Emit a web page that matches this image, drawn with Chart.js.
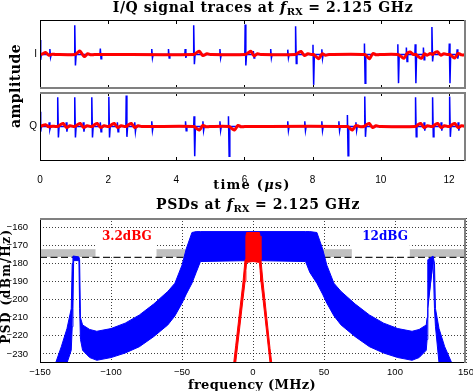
<!DOCTYPE html>
<html>
<head>
<meta charset="utf-8">
<script src="https://cdn.jsdelivr.net/npm/chart.js"></script>
<style>
  body { margin: 0; background: #fff; width: 473px; height: 391px; position: relative; overflow: hidden; }
  canvas { position: absolute; left: 0; }
  .lbl { position: absolute; font-family: 'DejaVu Serif', serif; font-weight: bold; color: #000;
         white-space: nowrap; line-height: 1; transform: translate(-50%, -50%); }
  .rot { transform: translate(-50%, -50%) rotate(-90deg); }
  .lbl sub { font-size: 10px; vertical-align: -3px; letter-spacing: 0; }
</style>
</head>
<body>
<canvas id="iChart" width="473" height="95" style="top:0px"></canvas>
<canvas id="qChart" width="473" height="104" style="top:88px"></canvas>
<canvas id="psdChart" width="473" height="179" style="top:212px"></canvas>

<div class="lbl" style="left:263px;top:8px;font-size:14px;letter-spacing:0.6px">I/Q signal traces at <i>f</i><sub>RX</sub> = 2.125 GHz</div>
<div class="lbl rot" style="left:15px;top:86px;font-size:14px;letter-spacing:0.5px">amplitude</div>
<div class="lbl" style="left:252px;top:184px;font-size:13px;letter-spacing:1.2px">time (<i>μ</i>s)</div>
<div class="lbl" style="left:258px;top:205px;font-size:14px;letter-spacing:0.6px">PSDs at <i>f</i><sub>RX</sub> = 2.125 GHz</div>
<div class="lbl rot" style="left:5.5px;top:286px;font-size:12px;letter-spacing:1.5px">PSD (dBm/Hz)</div>
<div class="lbl" style="left:252px;top:384px;font-size:13px;letter-spacing:0.3px">frequency (MHz)</div>

<script>
// ---- time traces (µs) ----
const timeTicks = [0, 2, 4, 6, 8, 10, 12];

// I branch: spike times, positive peak, negative peak
const iSpikeT  = [0.0, 0.29, 1.02, 1.77, 3.28, 3.77, 4.26, 4.51, 5.28, 6.02, 6.26, 6.77, 7.27, 7.50, 8.01, 8.27, 9.52, 10.50, 10.75, 11.01, 11.25, 11.50, 12.01, 12.24];
const iSpikeHi = [0.42, 0.16, 0.85, 0.17, 0.16, 0.16, 0.16, 0.85, 0.16, 0.87, 0.10, 0.16, 0.14, 0.82, 0.28, 0.15, 0.32, 0.30, 0.20, 0.30, 0.20, 0.80, 0.32, 0.15];
const iSpikeLo = [-0.16, -0.08, -0.32, -0.12, -0.10, -0.10, -0.10, -0.28, -0.10, -0.32, -0.10, -0.10, -0.10, -0.26, -0.88, -0.12, -0.83, -0.83, -0.20, -0.83, -0.15, -0.20, -0.83, -0.12];

// Q branch
const qSpikeT  = [0.0, 0.27, 0.52, 0.77, 1.02, 1.27, 1.52, 1.77, 2.02, 2.27, 2.53, 2.78, 3.28, 4.27, 4.52, 4.78, 5.28, 5.53, 7.27, 7.77, 8.27, 8.77, 9.02, 9.27, 9.53, 11.02, 11.27, 11.52, 11.77, 12.02, 12.27];
const qSpikeHi = [0.43, 0.12, 0.85, 0.12, 0.85, 0.12, 0.85, 0.12, 0.86, 0.12, 0.90, 0.12, 0.15, 0.15, 0.30, 0.15, 0.15, 0.30, 0.15, 0.15, 0.15, 0.15, 0.33, 0.12, 0.87, 0.85, 0.12, 0.85, 0.12, 0.87, 0.12];
const qSpikeLo = [-0.15, -0.08, -0.32, -0.15, -0.32, -0.15, -0.32, -0.15, -0.32, -0.15, -0.30, -0.15, -0.12, -0.12, -0.86, -0.12, -0.12, -0.86, -0.12, -0.12, -0.12, -0.12, -0.85, -0.12, -0.30, -0.30, -0.12, -0.30, -0.12, -0.30, -0.12];

// filtered (red) traces
const iRedT = [0, 0.08, 0.16, 0.26, 0.36, 0.45, 1.03, 1.10, 1.17, 1.30, 1.40, 1.50, 1.60, 4.52, 4.60, 4.68, 4.78, 4.90, 5.00,
  6.03, 6.11, 6.19, 6.28, 6.38, 6.48, 7.50, 7.58, 7.66, 7.76, 7.86, 7.96, 8.02, 8.10, 8.18, 8.28, 8.38, 8.48,
  9.53, 9.60, 9.67, 9.77, 9.87, 9.97, 10.50, 10.60, 10.68, 10.78, 10.86, 10.96, 11.03, 11.10, 11.19, 11.28, 11.36, 11.45,
  11.52, 11.58, 11.66, 11.76, 11.85, 11.95, 12.02, 12.10, 12.17, 12.27, 12.37, 12.5];
const iRedV = [0, 0.02, 0.06, -0.02, 0.01, 0, 0, 0.05, 0.10, -0.06, 0.02, -0.01, 0, 0, 0.06, 0.09, -0.03, 0.02, 0,
  0, 0.05, 0.09, -0.04, 0.02, 0, 0, 0.05, 0.09, -0.03, 0.02, 0, 0, -0.06, -0.12, 0.02, -0.02, 0,
  0, -0.06, -0.12, 0.03, -0.01, 0, 0, -0.06, -0.11, 0.04, 0.07, 0, 0, -0.06, -0.11, 0.02, -0.02, 0.03,
  0, 0.05, 0.08, -0.02, 0.02, 0, 0, -0.06, -0.10, 0.03, -0.01, 0];

const qRedT = [0, 0.08, 0.16, 0.26, 0.36, 0.45, 0.52, 0.60, 0.68, 0.78, 0.88, 0.98, 1.02, 1.10, 1.18, 1.28, 1.38, 1.48,
  1.53, 1.60, 1.68, 1.78, 1.88, 1.98, 2.03, 2.10, 2.18, 2.28, 2.38, 2.48, 2.53, 2.60, 2.68, 2.78, 2.88, 2.98,
  4.52, 4.60, 4.68, 4.78, 4.88, 4.98, 5.55, 5.63, 5.71, 5.81, 5.91, 6.01,
  9.03, 9.10, 9.17, 9.27, 9.37, 9.50, 9.58, 9.66, 9.76, 9.86, 9.96,
  11.02, 11.09, 11.17, 11.27, 11.37, 11.47, 11.52, 11.59, 11.67, 11.77, 11.87, 11.97, 12.02, 12.09, 12.17, 12.27, 12.37, 12.5];
const qRedV = [0, 0.03, 0.05, -0.01, 0.01, 0, 0, 0.05, 0.09, -0.03, 0.02, 0, 0, 0.05, 0.09, -0.03, 0.02, 0,
  0, 0.05, 0.09, -0.03, 0.02, 0, 0, 0.05, 0.09, -0.03, 0.02, 0, 0, 0.05, 0.09, -0.03, 0.02, 0,
  0, -0.06, -0.10, 0.03, -0.01, 0, 0, -0.06, -0.10, 0.03, -0.01, 0,
  0, -0.06, -0.10, 0.03, 0, 0, 0.05, 0.09, -0.03, 0.02, 0,
  0, 0.05, 0.09, -0.03, 0.02, 0, 0, 0.05, 0.09, -0.03, 0.02, 0, 0, 0.05, 0.09, -0.03, 0.02, 0];

// ---- PSDs (MHz, dBm/Hz) ----
const freqTicks = [-150, -100, -50, 0, 50, 100, 150];
const psdTicks = [-230, -220, -210, -200, -190, -180, -170, -160];

// 12 dBG signal: upper and lower envelope of the blue band
const blueF = [-139, -135, -131, -128, -127.3, -126.8, -126.3, -122.6, -122.1, -121.5, -120, -115, -110, -100, -90, -80, -70, -60, -55, -50, -47, -43, -40, -37,
  0, 37, 40, 45, 49, 52, 57, 62, 72, 82, 92, 102, 112, 117, 122, 122.6, 123.1, 126.8, 127.3, 127.8, 128.5, 131, 135, 140];
const blueUpper = [-235, -226, -216, -205, -180, -176, -176, -176.5, -178, -210, -214, -216.5, -217.5, -216, -213, -208.5, -202.5, -195.5, -191, -181, -172, -163, -162.5, -162.5,
  -162.5, -162.5, -162.5, -163, -172, -181, -191, -195.5, -202.5, -208.5, -213, -216, -217.5, -216.5, -214, -210, -178, -176, -176, -180, -205, -216, -226, -235];
const blueLower = [-235, -235, -235, -228, -215, -205, -178.5, -178.5, -205, -222, -228, -232, -233.5, -232, -229.5, -226, -220.5, -214, -209, -202, -197, -191, -185, -179,
  -178.5, -179, -185, -191, -197, -202, -209, -214, -220.5, -226, -229.5, -232, -233.5, -232, -228, -222, -205, -178.5, -178.5, -205, -215, -235, -235, -235];

// 3.2 dBG signal
const redF     = [-13.6, -12.2, -7, -5.6, -5, -4.5, 0, 4.5, 5, 5.6, 7, 12, 13.2];
const redUpper = [-235, -225.5, -190, -178, -165, -163, -163, -163, -165, -178, -190, -227, -235];
const redLower = [-235, -235, -199.5, -190, -184, -179.5, -179, -179.5, -184, -190, -199.5, -235, -235];

const bandTop = -172.2, bandBottom = -176.5, dashLevel = -176.7;
const gainText = ['3.2dBG', '12dBG'];
const gainFreq = [-88.8, 93];
const gainLevel = -165.3;
const gainColor = ['#ff0000', '#0000ff'];

Chart.defaults.font.family = "'Liberation Sans Narrow', 'Liberation Sans', Arial, sans-serif";
Chart.defaults.color = '#000';

function zip(xs, ys) {
  return xs.map((x, k) => ({ x: x, y: ys[k] }));
}

function spikePoints(ts, hi, lo) {
  const pts = [];
  ts.forEach((t, k) => {
    pts.push({ x: t - 0.01, y: 0 }, { x: t, y: hi[k] }, { x: t + 0.02, y: lo[k] }, { x: t + 0.04, y: 0 });
  });
  return pts;
}

// keep the plot box where I put it: no automatic room for the edge labels
function fixWidth(w) {
  return s => { s.width = w; s.paddingTop = 0; s.paddingBottom = 0; };
}
function fixHeight(h) {
  return s => { s.height = h; s.paddingLeft = 0; s.paddingRight = 0; };
}

const minus = v => String(v).replace('-', '\u2212');

// box around each panel, plus the small inward ticks of the time panels
const panelFrame = {
  id: 'panelFrame',
  afterDraw(chart, args, opts) {
    const { ctx, chartArea: a, scales } = chart;
    ctx.save();
    if (opts.ticks) {
      ctx.strokeStyle = '#000';
      ctx.lineWidth = 1;
      ctx.beginPath();
      opts.ticks.forEach(v => {
        const x = Math.round(scales.x.getPixelForValue(v)) + 0.5;
        ctx.moveTo(x, a.top); ctx.lineTo(x, a.top + 4);
        ctx.moveTo(x, a.bottom); ctx.lineTo(x, a.bottom - 4);
      });
      ctx.stroke();
    }
    ctx.strokeStyle = '#000';
    ctx.lineWidth = 1;
    ctx.strokeRect(a.left + 0.5, a.top + 0.5, a.width - 1, a.height - 1);
    ctx.strokeStyle = '#808080';
    ctx.lineWidth = 2;
    ctx.beginPath();
    (opts.gray || []).forEach(side => {
      if (side === 'top') { ctx.moveTo(a.left, a.top + 1); ctx.lineTo(a.right, a.top + 1); }
      if (side === 'bottom') { ctx.moveTo(a.left, a.bottom - 1); ctx.lineTo(a.right, a.bottom - 1); }
      if (side === 'right') { ctx.moveTo(a.right - 1, a.top); ctx.lineTo(a.right - 1, a.bottom); }
    });
    ctx.stroke();
    ctx.restore();
  }
};

// grey gain band, white label boxes, dashed reference and the dBG labels
const psdExtras = {
  id: 'psdExtras',
  beforeDatasetsDraw(chart) {
    const { ctx, chartArea: a, scales: { x, y } } = chart;
    ctx.save();
    ctx.beginPath();
    ctx.rect(a.left, a.top, a.width, a.height);
    ctx.clip();
    const yT = y.getPixelForValue(bandTop);
    const yB = y.getPixelForValue(bandBottom);
    ctx.fillStyle = '#c0c0c0';
    ctx.fillRect(a.left, yT, a.width, yB - yT);
    ctx.fillStyle = '#fff';
    const bTop = y.getPixelForValue(-161.1), bBot = y.getPixelForValue(-176.6);
    ctx.fillRect(x.getPixelForValue(-110.9), bTop, 61, bBot - bTop);
    ctx.fillRect(x.getPixelForValue(69.6), bTop, 58, bBot - bTop);
    const yd = y.getPixelForValue(dashLevel);
    ctx.setLineDash([7, 3.5]);
    ctx.strokeStyle = '#222';
    ctx.lineWidth = 1.3;
    ctx.beginPath();
    ctx.moveTo(a.left, yd); ctx.lineTo(a.right, yd);
    ctx.stroke();
    ctx.restore();
  },
  afterDatasetsDraw(chart) {
    const { ctx, scales: { x, y } } = chart;
    ctx.save();
    ctx.font = "bold 12px 'DejaVu Serif'";
    ctx.textAlign = 'center';
    ctx.textBaseline = 'middle';
    gainText.forEach((txt, k) => {
      ctx.fillStyle = gainColor[k];
      ctx.fillText(txt, x.getPixelForValue(gainFreq[k]), y.getPixelForValue(gainLevel));
    });
    ctx.restore();
  }
};

function tracePanel(canvasId, label, spikes, red, padTop, showX) {
  return new Chart(document.getElementById(canvasId), {
    type: 'line',
    data: {
      datasets: [{
        data: red,
        borderColor: '#ff0000',
        borderWidth: 3,
        pointRadius: 0,
        fill: false,
        tension: 0.3
      }, {
        data: spikes,
        borderColor: '#0000ff',
        borderWidth: 1.5,
        pointRadius: 0,
        fill: false,
        tension: 0
      }]
    },
    options: {
      responsive: false,
      animation: false,
      devicePixelRatio: 1,
      layout: { padding: { left: 0, right: 7, top: padTop, bottom: showX ? 0 : 6 } },
      plugins: { legend: { display: false }, tooltip: { enabled: false }, panelFrame: { ticks: timeTicks, gray: showX ? ['top', 'right'] : ['bottom', 'right'] } },
      scales: {
        x: {
          type: 'linear', min: 0, max: 12.5,
          afterBuildTicks: s => { s.ticks = timeTicks.map(v => ({ value: v })); },
          afterFit: fixHeight(showX ? 31 : 0),
          grid: { display: false },
          border: { display: false },
          ticks: { display: showX, padding: 5, font: { size: 10 }, maxRotation: 0 }
        },
        y: {
          min: -1, max: 1,
          afterBuildTicks: s => { s.ticks = [{ value: 0 }]; },
          afterFit: fixWidth(40),
          grid: { display: false, drawTicks: false },
          border: { display: false },
          ticks: { padding: 3, font: { size: 10, family: "'Liberation Sans', Arial, sans-serif" }, callback: () => label }
        }
      }
    },
    plugins: [panelFrame]
  });
}

tracePanel('iChart', 'I', spikePoints(iSpikeT, iSpikeHi, iSpikeLo), zip(iRedT, iRedV), 20, false);
tracePanel('qChart', 'Q', spikePoints(qSpikeT, qSpikeHi, qSpikeLo), zip(qRedT, qRedV), 4, true);

const psdChart = new Chart(document.getElementById('psdChart'), {
  type: 'line',
  data: {
    datasets: [{
      data: zip(redF, redUpper),
      borderColor: '#ff0000', backgroundColor: '#ff0000', borderWidth: 1, pointRadius: 0, fill: '+1'
    }, {
      data: zip(redF, redLower),
      borderColor: '#ff0000', borderWidth: 1, pointRadius: 0, fill: false
    }, {
      data: zip(blueF, blueUpper),
      borderColor: '#0000ff', backgroundColor: '#0000ff', borderWidth: 1, pointRadius: 0, fill: '+1'
    }, {
      data: zip(blueF, blueLower),
      borderColor: '#0000ff', borderWidth: 1, pointRadius: 0, fill: false
    }]
  },
  options: {
    responsive: false,
    animation: false,
    devicePixelRatio: 1,
    layout: { padding: { left: 0, right: 7, top: 6, bottom: 0 } },
    plugins: { legend: { display: false }, tooltip: { enabled: false }, panelFrame: { gray: ['top', 'right'] } },
    scales: {
      x: {
        type: 'linear', min: -150, max: 150,
        afterBuildTicks: s => { s.ticks = freqTicks.map(v => ({ value: v })); },
        afterFit: fixHeight(28),
        grid: { color: 'rgba(0,0,0,0.75)', drawTicks: false },
        border: { display: false, dash: [1, 2] },
        ticks: { padding: 4, font: { size: 9.5 }, maxRotation: 0, callback: minus }
      },
      y: {
        min: -235, max: -155,
        afterBuildTicks: s => { s.ticks = psdTicks.map(v => ({ value: v })); },
        afterFit: fixWidth(40),
        grid: { color: 'rgba(0,0,0,0.75)', drawTicks: false },
        border: { display: false, dash: [1, 2] },
        ticks: { padding: 12, font: { size: 9.5 }, callback: minus }
      }
    }
  },
  plugins: [psdExtras, panelFrame]
});
</script>
</body>
</html>
